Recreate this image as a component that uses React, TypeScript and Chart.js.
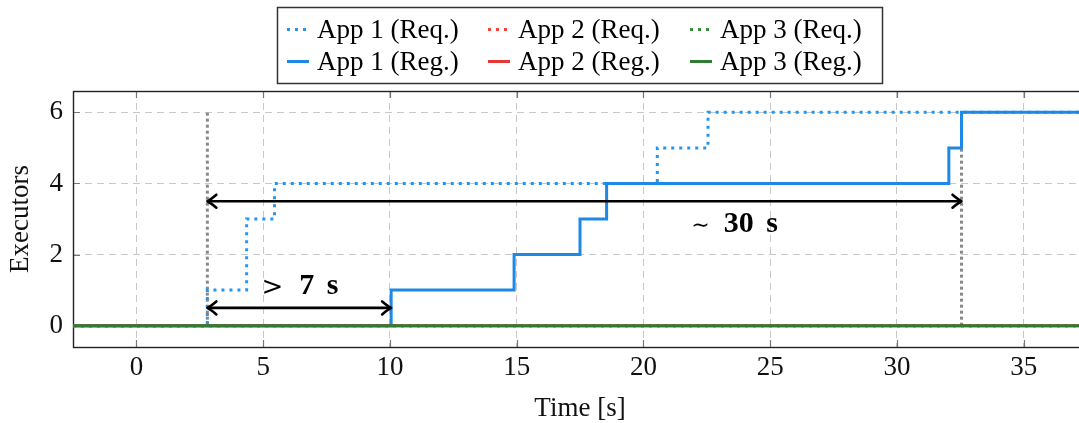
import { useEffect, useRef } from "react";
import { Chart, registerables } from "chart.js";

Chart.register(...registerables);

// ---- data ----
const xTicks = [0, 5, 10, 15, 20, 25, 30, 35];
const yTicks = [0, 2, 4, 6];
const xMin = -2.5;
const xMax = 37.5;
const yMin = -0.6;
const yMax = 6.6;

const app1ReqX = [-2.5, 2.8, 4.35, 5.45, 20.55, 22.55, 37.5];
const app1ReqY = [0, 1, 3, 4, 5, 6, 6];
const app2ReqX = [-2.5, 37.5];
const app2ReqY = [0, 0];
const app3ReqX = [-2.5, 37.5];
const app3ReqY = [0, 0];

const app1RegX = [-2.5, 10.05, 14.9, 17.5, 18.55, 32.05, 32.55, 37.5];
const app1RegY = [0, 1, 2, 3, 4, 5, 6, 6];
const app2RegX = [-2.5, 37.5];
const app2RegY = [0, 0];
const app3RegX = [-2.5, 37.5];
const app3RegY = [0, 0];

const markerX = [2.8, 32.55];
const markerY = [0, 6];

const arrowFromX = [2.8, 2.8];
const arrowToX = [10.05, 32.55];
const arrowY = [0.5, 3.5];

const noteRel = [">", "\u223C"];
const noteBold = ["7 s", "30 s"];
const noteX = [6.45, 23.6];
const noteY = [0.9, 2.64];

const seriesLabels = [
  "App 1 (Req.)",
  "App 2 (Req.)",
  "App 3 (Req.)",
  "App 1 (Reg.)",
  "App 2 (Reg.)",
  "App 3 (Reg.)",
];

const FONT = '"Liberation Serif", "DejaVu Serif", serif';
const MATH = '"DejaVu Serif", serif';

const pts = (xs: number[], ys: number[]) => xs.map((x, i) => ({ x, y: ys[i] }));

export default function App() {
  const ref = useRef<HTMLCanvasElement | null>(null);

  useEffect(() => {
    if (!ref.current) return;
    const dotted = [3, 5];
    const blueReq = "#2196F3";
    const blueReg = "#1E88E5";
    const redReq = "#F44336";
    const redReg = "#E53935";
    const greenReq = "#388E3C";
    const greenReg = "#2E7D32";

    const mk = (label: string, data: any[], color: string, dash: number[], order: number) => ({
      label,
      data,
      borderColor: color,
      backgroundColor: color,
      borderWidth: 3,
      borderDash: dash,
      borderCapStyle: "butt" as const,
      stepped: "before" as const,
      pointRadius: 0,
      fill: false,
      order,
    });

    const datasets: any[] = [
      mk(seriesLabels[0], pts(app1ReqX, app1ReqY), blueReq, dotted, 7),
      mk(seriesLabels[1], pts(app2ReqX, app2ReqY), redReq, dotted, 6),
      mk(seriesLabels[2], pts(app3ReqX, app3ReqY), greenReq, dotted, 5),
      mk(seriesLabels[3], pts(app1RegX, app1RegY), blueReg, [], 4),
      mk(seriesLabels[4], pts(app2RegX, app2RegY), redReg, [], 3),
      mk(seriesLabels[5], pts(app3RegX, app3RegY), greenReg, [], 2),
    ];
    markerX.forEach((mx, i) => {
      datasets.push({
        label: "marker" + i,
        data: [
          { x: mx, y: markerY[0] },
          { x: mx, y: markerY[1] },
        ],
        borderColor: "#888888",
        borderWidth: 3,
        borderDash: [3, 3],
        pointRadius: 0,
        fill: false,
        order: 10,
      });
    });

    const decor = {
      id: "decor",
      beforeDatasetsDraw(chart: any) {
        const { ctx, chartArea: a, scales } = chart;
        ctx.save();
        ctx.strokeStyle = "#777";
        ctx.lineWidth = 1.2;
        ctx.beginPath();
        xTicks.forEach((v) => {
          const px = Math.round(scales.x.getPixelForValue(v)) + 0.5;
          ctx.moveTo(px, a.bottom);
          ctx.lineTo(px, a.bottom - 7);
          ctx.moveTo(px, a.top);
          ctx.lineTo(px, a.top + 7);
        });
        yTicks.forEach((v) => {
          const py = Math.round(scales.y.getPixelForValue(v)) + 0.5;
          ctx.moveTo(a.left, py);
          ctx.lineTo(a.left + 7, py);
          ctx.moveTo(a.right, py);
          ctx.lineTo(a.right - 7, py);
        });
        ctx.stroke();
        ctx.strokeStyle = "#222";
        ctx.lineWidth = 1.4;
        ctx.strokeRect(a.left + 0.5, a.top + 0.5, a.right - a.left, a.bottom - a.top);
        ctx.restore();
      },
      afterDatasetsDraw(chart: any) {
        const { ctx, scales } = chart;
        ctx.save();
        ctx.strokeStyle = "#000";
        ctx.lineWidth = 2.6;
        ctx.lineCap = "round";
        ctx.lineJoin = "round";
        const head = (tx: number, ty: number, dir: number) => {
          ctx.beginPath();
          ctx.moveTo(tx - dir * 9, ty - 6.5);
          ctx.quadraticCurveTo(tx - dir * 3, ty - 1.5, tx, ty);
          ctx.quadraticCurveTo(tx - dir * 3, ty + 1.5, tx - dir * 9, ty + 6.5);
          ctx.stroke();
        };
        arrowY.forEach((yv, i) => {
          const x1 = scales.x.getPixelForValue(arrowFromX[i]);
          const x2 = scales.x.getPixelForValue(arrowToX[i]);
          const py = scales.y.getPixelForValue(yv);
          ctx.beginPath();
          ctx.moveTo(x1 + 1, py);
          ctx.lineTo(x2 - 1, py);
          ctx.stroke();
          head(x1, py, -1);
          head(x2, py, 1);
        });
        // notes
        ctx.fillStyle = "#000";
        ctx.textBaseline = "alphabetic";
        ctx.textAlign = "left";
        noteRel.forEach((rel, i) => {
          const relFont = i === 0 ? `26px ${MATH}` : `22px ${MATH}`;
          const boldFont = `bold 30px ${FONT}`;
          (ctx as any).wordSpacing = "5px";
          ctx.font = relFont;
          const wr = ctx.measureText(rel).width;
          ctx.font = boldFont;
          const wb = ctx.measureText(noteBold[i]).width;
          const gap = i === 0 ? 16 : 14;
          const total = wr + gap + wb;
          const cx = scales.x.getPixelForValue(noteX[i]);
          const by = scales.y.getPixelForValue(noteY[i]);
          const sx = cx - total / 2;
          ctx.font = relFont;
          ctx.fillText(rel, sx, by + (i === 0 ? 1 : 0));
          ctx.font = boldFont;
          ctx.fillText(noteBold[i], sx + wr + gap, by);
          (ctx as any).wordSpacing = "0px";
        });
        ctx.restore();
      },
      afterDraw(chart: any) {
        const { ctx } = chart;
        const ds = chart.data.datasets;
        ctx.save();
        // legend box
        ctx.fillStyle = "#fff";
        ctx.fillRect(277, 7, 606, 76);
        ctx.strokeStyle = "#333";
        ctx.lineWidth = 1.5;
        ctx.strokeRect(277.5, 7.5, 605, 76);
        const colX = [287, 488, 690];
        const rowBase = [38, 70];
        ctx.font = `27px ${FONT}`;
        ctx.textBaseline = "alphabetic";
        ctx.textAlign = "left";
        for (let i = 0; i < 6; i++) {
          const col = i % 3;
          const row = Math.floor(i / 3);
          const d = ds[i];
          const sy = rowBase[row] - 8.5;
          ctx.strokeStyle = d.borderColor;
          ctx.lineWidth = 3;
          ctx.setLineDash(d.borderDash || []);
          ctx.lineCap = "butt";
          ctx.beginPath();
          ctx.moveTo(colX[col], sy);
          ctx.lineTo(colX[col] + 22, sy);
          ctx.stroke();
          ctx.setLineDash([]);
          ctx.fillStyle = "#000";
          ctx.fillText(d.label, colX[col] + 30, rowBase[row]);
        }
        ctx.restore();
      },
    };

    const chart = new Chart(ref.current, {
      type: "line",
      data: { datasets },
      plugins: [decor],
      options: {
        animation: false,
        responsive: false,
        devicePixelRatio: 1,
        layout: { padding: { top: 91, right: 13, left: 0, bottom: 0 } },
        plugins: { legend: { display: false }, tooltip: { enabled: false } },
        scales: {
          x: {
            type: "linear",
            min: xMin,
            max: xMax,
            afterBuildTicks: (s: any) => {
              s.ticks = xTicks.map((v) => ({ value: v }));
            },
            afterFit: (s: any) => {
              s.height = 76;
            },
            grid: { color: "#c8c8c8", lineWidth: 1, drawTicks: false },
            border: { display: false, dash: [7, 5] },
            ticks: {
              padding: 5,
              color: "#111",
              font: { family: FONT, size: 27 },
              maxRotation: 0,
              callback: (v: any) => String(v),
            },
            title: {
              display: true,
              text: "Time [s]",
              color: "#111",
              font: { family: FONT, size: 27, lineHeight: 1.05 },
              padding: { top: 0, bottom: 0 },
            },
          },
          y: {
            type: "linear",
            min: yMin,
            max: yMax,
            afterBuildTicks: (s: any) => {
              s.ticks = yTicks.map((v) => ({ value: v }));
            },
            afterFit: (s: any) => {
              s.width = 73;
            },
            grid: { color: "#c8c8c8", lineWidth: 1, drawTicks: false },
            border: { display: false, dash: [7, 5] },
            ticks: {
              padding: 10,
              color: "#111",
              font: { family: FONT, size: 27 },
              callback: (v: any) => String(v),
            },
            title: {
              display: true,
              text: "Executors",
              color: "#111",
              font: { family: FONT, size: 27, lineHeight: 1.2 },
              padding: { top: 5, bottom: 0 },
            },
          },
        },
      },
    } as any);
    return () => chart.destroy();
  }, []);

  return (
    <div
      style={{
        position: "fixed",
        left: 0,
        top: 0,
        width: 1079,
        height: 423,
        overflow: "hidden",
        background: "#fff",
      }}
    >
      <canvas ref={ref} width={1100} height={423} style={{ display: "block" }} />
    </div>
  );
}
